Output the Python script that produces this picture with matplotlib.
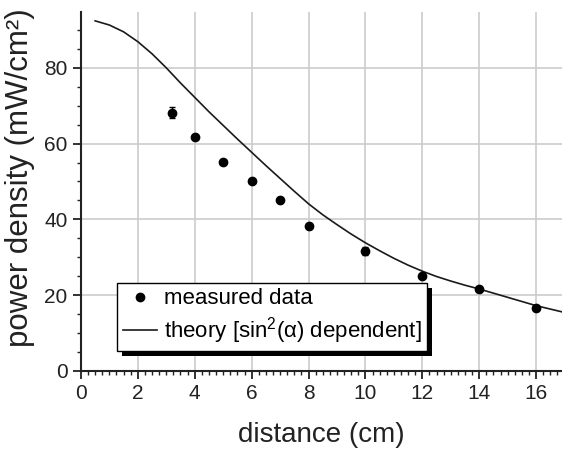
import matplotlib
matplotlib.use("Agg")
from matplotlib import pyplot as plt
from matplotlib.ticker import MultipleLocator
from matplotlib.patches import Rectangle
from matplotlib.transforms import IdentityTransform

# measured data (distance in cm, power density in mW/cm^2)
meas_x = [3.2, 4, 5, 6, 7, 8, 10, 12, 14, 16]
meas_y = [68.2, 61.7, 55.1, 50.0, 45.1, 38.3, 31.7, 25.0, 21.6, 16.6]
meas_err = [1.5, 0.6, 0.5, 0.5, 0.5, 0.5, 1.1, 0.5, 0.5, 0.5]

# theory curve
theory_x = [0.5, 1, 1.5, 2, 2.5, 3, 3.5, 4, 4.5, 5, 5.5, 6, 6.5, 7, 7.5, 8,
            8.5, 9, 9.5, 10, 10.5, 11, 11.5, 12, 12.5, 13, 13.5, 14, 14.5,
            15, 15.5, 16, 16.5, 17]
theory_y = [92.4, 91.3, 89.5, 86.9, 83.7, 80.0, 76.0, 72.2, 68.4, 64.8, 61.2,
            57.7, 54.2, 50.8, 47.4, 44.1, 41.2, 38.6, 36.1, 33.8, 31.7, 29.7,
            27.9, 26.3, 24.9, 23.7, 22.6, 21.6, 20.5, 19.4, 18.3, 17.2, 16.3,
            15.4]

plt.rcParams["font.family"] = ["Liberation Sans", "DejaVu Sans"]
plt.rcParams["mathtext.fontset"] = "custom"
plt.rcParams["mathtext.rm"] = "Liberation Sans"
plt.rcParams["mathtext.it"] = "Liberation Sans:italic"
plt.rcParams["mathtext.bf"] = "Liberation Sans:bold"

fig = plt.figure(figsize=(5.62, 4.5), dpi=100)
ax = fig.add_axes([0.144, 0.176, 0.857, 0.797])

ax.errorbar(meas_x, meas_y, yerr=meas_err, fmt="none", ecolor="black",
            elinewidth=1, capsize=2, capthick=1, zorder=3)
pts, = ax.plot(meas_x, meas_y, "o", color="black", ms=6, zorder=3,
               label="measured data")
line, = ax.plot(theory_x, theory_y, color="#1a1a1a", lw=1.2,
                label="theory [sin$^2$(α) dependent]", zorder=2)

ax.set_xlim(0, 16.93)
ax.set_ylim(0, 94.7)
ax.xaxis.set_major_locator(MultipleLocator(2))
ax.xaxis.set_minor_locator(MultipleLocator(0.25))
ax.yaxis.set_major_locator(MultipleLocator(20))
ax.yaxis.set_minor_locator(MultipleLocator(5))

ax.grid(True, which="major", color="#cccccc", lw=1.2, zorder=0)
ax.set_axisbelow(True)

for side in ["top", "right"]:
    ax.spines[side].set_visible(False)
for side in ["left", "bottom"]:
    ax.spines[side].set_linewidth(1.5)
    ax.spines[side].set_color("#222222")

ax.tick_params(axis="both", which="major", direction="out", length=6,
               width=1.3, labelsize=15, colors="#222222")
ax.tick_params(axis="both", which="minor", direction="out", length=3,
               width=1, colors="#222222")

ax.set_xlabel("distance (cm)", fontsize=20, color="#222222", labelpad=14)
ax.set_ylabel("power density (mW/cm²)", fontsize=22.5, color="#222222")
ax.yaxis.set_label_coords(-0.095, 0.54)

leg = ax.legend(handles=[pts, line], loc="upper left",
                bbox_to_anchor=(0.075, 0.245), borderaxespad=0, fontsize=16,
                fancybox=False, edgecolor="black", framealpha=1,
                handlelength=1.55, handletextpad=0.3, borderpad=0.25,
                labelspacing=0.25)
leg.get_frame().set_linewidth(1)
leg.set_zorder(6)

# solid black drop shadow behind the legend box
fig.canvas.draw()
bb = leg.get_frame().get_window_extent()
shadow = Rectangle((bb.x0 + 5, bb.y0 - 5), bb.width, bb.height,
                   transform=IdentityTransform(), facecolor="black",
                   edgecolor="none", clip_on=False, zorder=5.5)
ax.add_patch(shadow)

fig.savefig("out.png", dpi=100)
